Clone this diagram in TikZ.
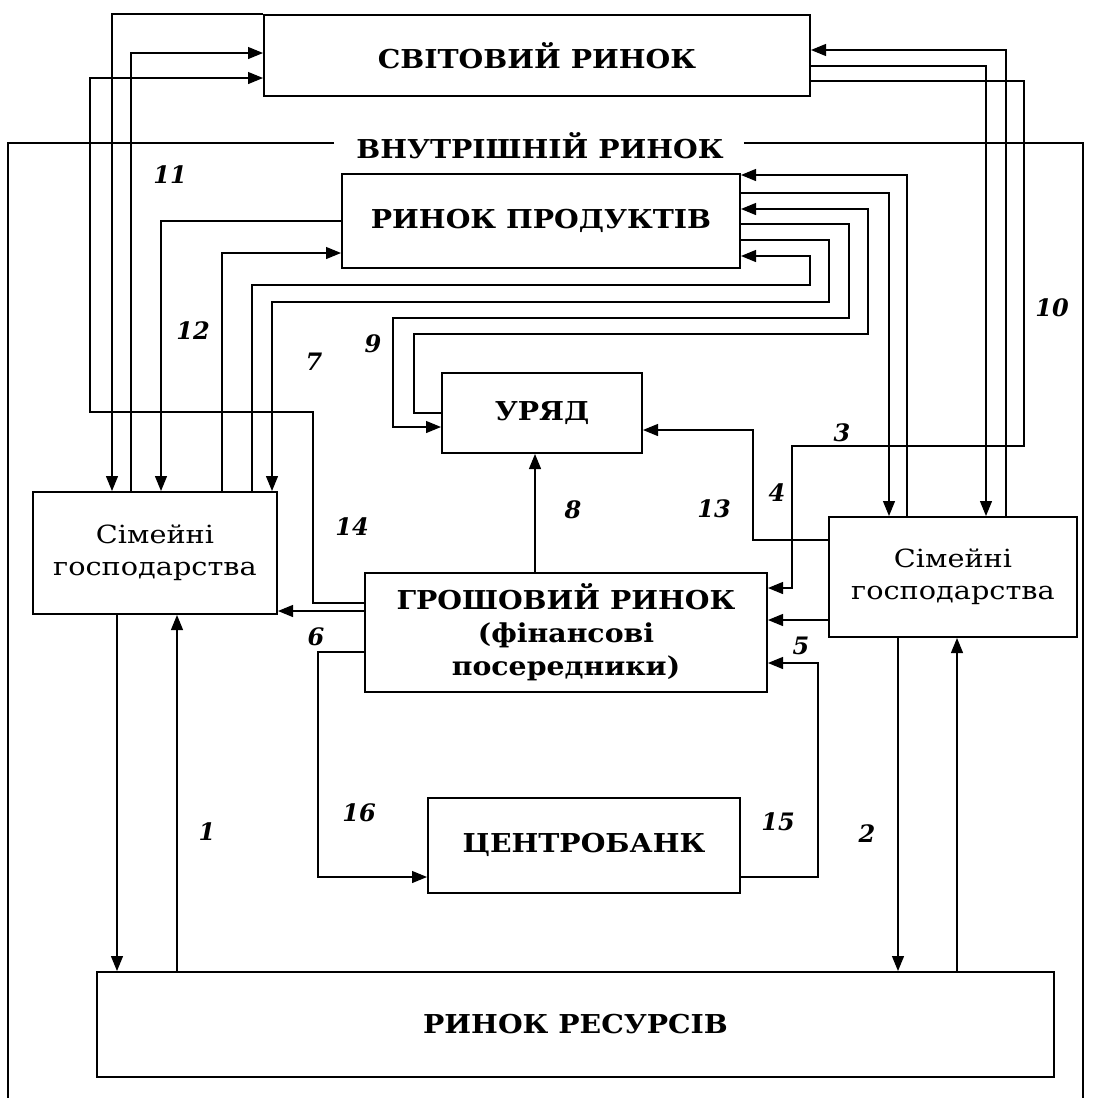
\documentclass[tikz,border=0pt]{standalone}
\usepackage{fontspec}
\setmainfont{DejaVu Serif}
\newfontfamily\tf[FakeStretch=1.09]{DejaVu Serif}
\newfontfamily\hf[FakeStretch=1.15]{DejaVu Serif}
\usetikzlibrary{arrows.meta}
\tikzset{
  box/.style={draw, line width=2pt, inner sep=0pt, align=center},
  conn/.style={line width=1.2pt},
  arr/.style={conn, -{Triangle[length=15pt,width=12pt]}},
  ttl/.style={font=\tf\bfseries\fontsize{26}{33}\selectfont},
  hh/.style={font=\hf\fontsize{25}{32}\selectfont},
  num/.style={font=\bfseries\itshape\fontsize{24}{28}\selectfont, inner sep=0pt},
}
\begin{document}
\begin{tikzpicture}[x=1pt,y=-1pt]
\useasboundingbox (0,0) rectangle (1094,1098);
\fill[white] (0,0) rectangle (1094,1098);

% boxes
\node[box, ttl, minimum width=546pt, minimum height=81pt] (wm) at (537,55.5) {СВІТОВИЙ РИНОК};
\node[box, ttl, minimum width=398pt, minimum height=94pt] (pm) at (541,221) {РИНОК ПРОДУКТІВ};
\node[box, ttl, minimum width=200pt, minimum height=80pt] (gov) at (542,413) {УРЯД};
\node[box, hh, minimum width=244pt, minimum height=122pt] (hhL) at (155,553) {Сімейні\\господарства};
\node[box, hh, minimum width=248pt, minimum height=120pt] (hhR) at (953,577) {Сімейні\\господарства};
\node[box, ttl, minimum width=402pt, minimum height=119pt] (mm) at (566,632.5) {ГРОШОВИЙ РИНОК\\(фінансові\\посередники)};
\node[box, ttl, minimum width=312pt, minimum height=95pt] (cb) at (584,845) {ЦЕНТРОБАНК};
\node[box, ttl, minimum width=957pt, minimum height=105pt] (rm) at (575.5,1024.5) {РИНОК РЕСУРСІВ};

% inner market frame
\node[ttl, inner sep=0pt] (inner) at (540,146) {ВНУТРІШНІЙ РИНОК};
\draw[line width=1.6pt] ([xshift=-22pt]inner.west |- 0,143) -- (8,143) -- (8,1098);
\draw[line width=1.6pt] ([xshift=20pt]inner.east |- 0,143) -- (1083,143) -- (1083,1098);

% world market, left side
\draw[arr] (wm.north west) -| (112,0 |- hhL.north);
\draw[arr] (131,0 |- hhL.north) |- (wm.west |- 0,53);
\draw[arr] (mm.west |- 0,603) -| (313,412) -| (90,78) -- (wm.west |- 0,78);

% product market, left side
\draw[arr] (pm.west |- 0,221) -| (161,0 |- hhL.north);
\draw[arr] (222,0 |- hhL.north) |- (pm.west |- 0,253);
\draw[arr] (252,0 |- hhL.north) |- (810,285) |- (pm.east |- 0,256);
\draw[arr] (pm.east |- 0,240) -| (829,302) -| (272,0 |- hhL.north);
\draw[arr] (pm.east |- 0,224) -| (849,318) -| (393,427) -- (gov.west |- 0,427);
\draw[arr] (gov.west |- 0,413) -| (414,334) -| (868,209) -- (pm.east |- 0,209);

% product market, right side
\draw[arr] (pm.east |- 0,193) -| (889,0 |- hhR.north);
\draw[arr] (907,0 |- hhR.north) |- (pm.east |- 0,175);

% world market, right side
\draw[arr] (wm.east |- 0,66) -| (986,0 |- hhR.north);
\draw[arr] (1006,0 |- hhR.north) |- (wm.east |- 0,50);
\draw[arr] (wm.east |- 0,81) -| (1024,446) -| (792,588) -- (mm.east |- 0,588);

% households right
\draw[arr] (hhR.west |- 0,540) -| (753,430) -- (gov.east |- 0,430);
\draw[arr] (hhR.west |- 0,620) -- (mm.east |- 0,620);

% central bank
\draw[arr] (cb.east |- 0,877) -| (818,663) -- (mm.east |- 0,663);
\draw[arr] (mm.west |- 0,652) -| (318,877) -- (cb.west |- 0,877);

% money market
\draw[arr] (mm.west |- 0,611) -- (hhL.east |- 0,611);
\draw[arr] (535,0 |- mm.north) -- (535,0 |- gov.south);

% resource market
\draw[arr] (117,0 |- hhL.south) -- (117,0 |- rm.north);
\draw[arr] (177,0 |- rm.north) -- (177,0 |- hhL.south);
\draw[arr] (898,0 |- hhR.south) -- (898,0 |- rm.north);
\draw[arr] (957,0 |- rm.north) -- (957,0 |- hhR.south);

% labels
\node[num] (n1) at (207,832) {1};
\node[num] (n2) at (867,834) {2};
\node[num] (n3) at (842,433) {3};
\node[num] (n4) at (777,493) {4};
\node[num] (n5) at (801,646) {5};
\node[num] (n6) at (316,637) {6};
\node[num] (n7) at (314,362) {7};
\node[num] (n8) at (573,510) {8};
\node[num] (n9) at (373,344) {9};
\node[num] (n10) at (1052,308) {10};
\node[num] (n11) at (170,175) {11};
\node[num] (n12) at (193,331) {12};
\node[num] (n13) at (714,509) {13};
\node[num] (n14) at (352,527) {14};
\node[num] (n15) at (778,822) {15};
\node[num] (n16) at (359,813) {16};
\end{tikzpicture}
\end{document}
